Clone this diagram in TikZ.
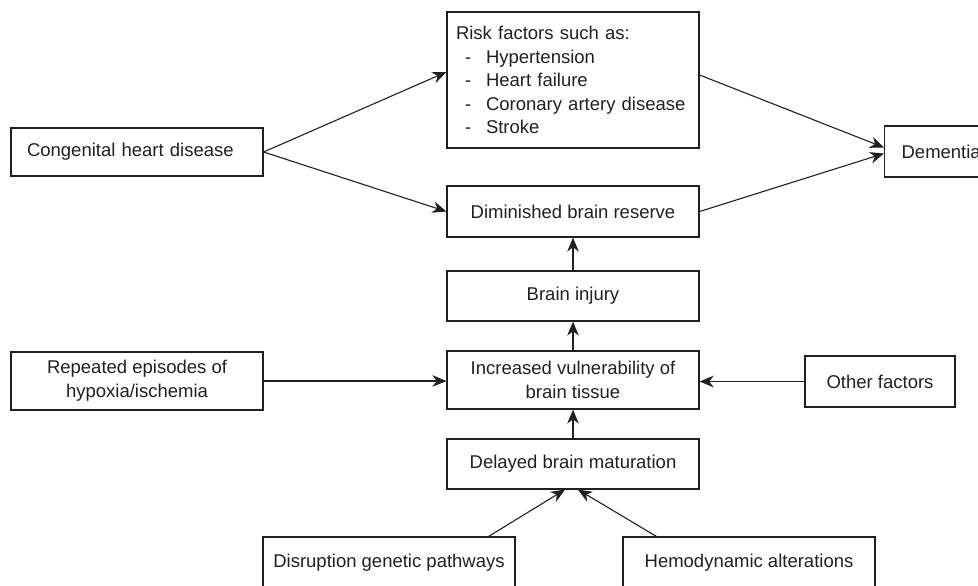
\documentclass[tikz,border=0pt]{standalone}
\usepackage{fontspec}
\setmainfont{Liberation Sans}
\usetikzlibrary{arrows.meta}
\definecolor{ink}{RGB}{35,31,32}
\begin{document}
\begin{tikzpicture}[x=0.5pt,y=-0.5pt,
  box/.style={draw=ink, line width=0.6pt, text=ink, inner sep=0pt, align=center,
    font=\fontsize{9.25}{11.8}\selectfont, minimum width=126pt},
  arr/.style={draw=ink, line width=0.55pt, -{Stealth[length=7pt,width=5.8pt,inset=2.2pt]}}]
\useasboundingbox (0,0) rectangle (978,585);
\clip (0,0) rectangle (978,585);
% nodes
\node[box, minimum height=24pt, align=left, text width=110pt, inner xsep=8pt, minimum width=0pt] (cong) at (137,152) {Congenital heart disease};
\node[box, minimum height=68pt, align=left, text width=117pt, inner xsep=4.5pt, minimum width=0pt] (risk) at (573,80) {Risk factors such as:\\
\hspace*{4.5pt}\makebox[10.5pt][l]{-}Hypertension\\
\hspace*{4.5pt}\makebox[10.5pt][l]{-}Heart failure\\
\hspace*{4.5pt}\makebox[10.5pt][l]{-}Coronary artery disease\\
\hspace*{4.5pt}\makebox[10.5pt][l]{-}Stroke};
\node[box, minimum height=25.5pt, align=left, text width=66.5pt, inner xsep=8.5pt, minimum width=0pt, anchor=west] (dem) at (884,151.5) {Dementia};
\node[box, minimum height=25.5pt] (dim) at (573,211.5) {Diminished brain reserve};
\node[box, minimum height=25pt] (inj) at (573,296) {Brain injury};
\node[box, minimum height=29pt] (incr) at (573,380) {Increased vulnerability of\\brain tissue};
\node[box, minimum height=25pt] (del) at (573,464) {Delayed brain maturation};
\node[box, minimum height=29pt] (rep) at (137,381) {Repeated episodes of\\hypoxia/ischemia};
\node[box, minimum height=25.5pt, minimum width=75pt] (oth) at (880,381.5) {Other factors};
\node[box, minimum height=26pt] (dis) at (389,563) {Disruption genetic pathways};
\node[box, minimum height=26pt] (hem) at (749,563) {Hemodynamic alterations};
% connectors
\draw[arr] (cong.east) -- ([yshift=4pt]risk.west);
\draw[arr] (cong.east) -- (dim.west);
\draw[arr] ([yshift=2.5pt]risk.east) -- ([yshift=2pt]dem.west);
\draw[arr] (dim.east) -- ([yshift=-1pt]dem.west);
\draw[arr] (inj.north) -- (dim.south);
\draw[arr] (incr.north) -- (inj.south);
\draw[arr] (del.north) -- (incr.south);
\draw[arr] (rep.east) -- (rep.east -| incr.west);
\draw[arr] (oth.west) -- (oth.west -| incr.east);
\draw[arr] ([xshift=-13.5pt]dis.north east) -- ([xshift=-4pt]del.south);
\draw[arr] ([xshift=17pt]hem.north west) -- ([xshift=2.5pt]del.south);
\end{tikzpicture}
\end{document}
